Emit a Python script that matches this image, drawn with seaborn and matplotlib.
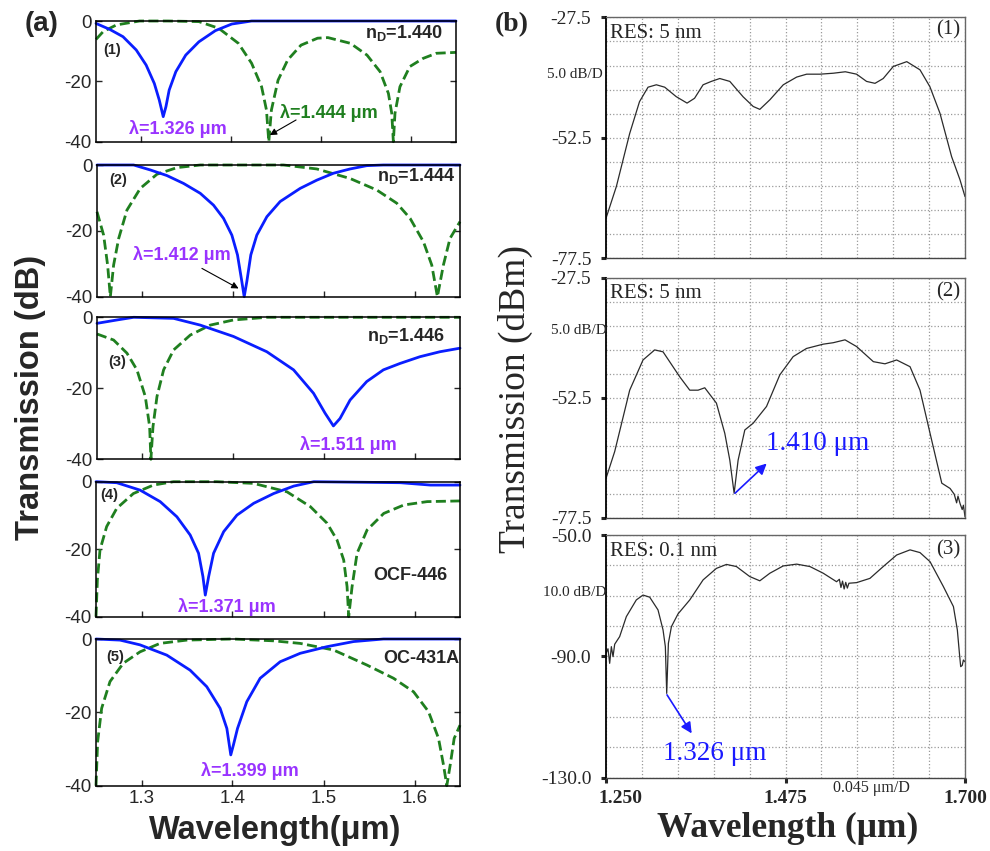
import numpy as np
import pandas as pd
import seaborn as sns
import matplotlib.pyplot as plt
from matplotlib import transforms

# ---- panel (a): simulated transmission, dB vs wavelength (um) ----
# blue solid curve / green dashed curve for each of the five cases
s1_solid_wl = [1.25, 1.2654, 1.28, 1.2947, 1.3057, 1.3148, 1.3203, 1.3247, 1.3277, 1.3313, 1.3387,
               1.3497, 1.3643, 1.3826, 1.4009, 1.4229, 1.65]
s1_solid_db = [-0.8, -2.8, -5.2, -9.6, -14.6, -20.7, -26.2, -31.7, -28.4, -22.9, -16.8,
               -11.3, -6.9, -3.2, -1.0, 0.0, 0.0]
s1_dash_wl = [1.25, 1.258, 1.2727, 1.2984, 1.33, 1.3643, 1.3863, 1.4082, 1.4229, 1.434, 1.4394, 1.442,
              1.4449, 1.4523, 1.463, 1.4778, 1.4962, 1.5077, 1.5327, 1.5511, 1.5657, 1.5749, 1.5786,
              1.5804, 1.5822, 1.5877, 1.5987, 1.6134, 1.6281, 1.65]
s1_dash_db = [-6.1, -3.5, -1.3, 0.0, 0.0, -0.2, -2.4, -7.4, -14.0, -21.8, -29.5, -40.0,
              -29.5, -19.6, -12.9, -8.0, -5.7, -5.5, -7.4, -11.3, -16.8, -24.0, -30.6,
              -40.0, -30.6, -21.8, -15.1, -12.4, -10.7, -10.4]

s2_solid_wl = [1.25, 1.2904, 1.3087, 1.327, 1.3454, 1.3638, 1.3784, 1.3894, 1.3986, 1.4048, 1.4096,
               1.4122, 1.4151, 1.4195, 1.4261, 1.4372, 1.4518, 1.4739, 1.4922, 1.5106, 1.5289,
               1.5472, 1.5656, 1.65]
s2_solid_db = [0.0, 0.0, -1.5, -3.2, -5.6, -8.6, -12.2, -16.2, -21.3, -27.3, -35.4,
               -40.0, -35.4, -27.3, -21.3, -15.7, -11.1, -7.1, -4.6, -2.5, -1.2,
               -0.2, 0.0, 0.0]
s2_dash_wl = [1.25, 1.2573, 1.2617, 1.2647, 1.2683, 1.2739, 1.283, 1.2977, 1.3161, 1.3381, 1.3638,
              1.4188, 1.4555, 1.4922, 1.5289, 1.5583, 1.5803, 1.595, 1.6097, 1.6189, 1.6251,
              1.6317, 1.639, 1.65]
s2_dash_db = [-14.2, -21.3, -30.4, -40.0, -30.4, -22.3, -13.7, -7.1, -2.8, -0.8, 0.0,
              0.0, 0.0, -1.2, -4.1, -7.6, -11.6, -16.2, -23.3, -30.4, -40.0,
              -30.4, -22.3, -17.2]

s3_solid_wl = [1.25, 1.272, 1.2904, 1.3344, 1.3638, 1.4004, 1.4371, 1.4666, 1.4886, 1.5013, 1.5105,
               1.5178, 1.5289, 1.5472, 1.5656, 1.5839, 1.6059, 1.6279, 1.65]
s3_solid_db = [-1.7, -0.75, 0.0, -0.3, -2.2, -5.4, -9.7, -14.8, -21.4, -27.0, -30.6,
               -28.5, -23.3, -18.1, -14.8, -13.0, -11.1, -9.7, -8.7]
s3_dash_wl = [1.25, 1.2683, 1.283, 1.294, 1.3032, 1.308, 1.3094, 1.3117, 1.3161, 1.3234, 1.3344,
              1.3528, 1.3748, 1.4004, 1.4371, 1.65]
s3_dash_db = [-4.7, -6.4, -10.1, -14.8, -22.3, -30.8, -40.0, -30.8, -22.3, -14.8, -9.2,
              -5.0, -2.2, -0.75, 0.0, 0.0]

s4_solid_wl = [1.25, 1.2728, 1.2985, 1.3205, 1.3389, 1.3535, 1.3627, 1.3675, 1.3701, 1.3738, 1.3792,
               1.3903, 1.4049, 1.4233, 1.4453, 1.4673, 1.4893, 1.5846, 1.6176, 1.65]
s4_solid_db = [0.0, -0.3, -2.5, -5.9, -10.4, -15.8, -21.2, -28.1, -33.6, -28.1, -21.2,
               -14.8, -9.9, -6.4, -3.5, -1.3, 0.0, -0.3, -1.0, -1.0]
s4_dash_wl = [1.25, 1.2515, 1.2544, 1.2617, 1.2728, 1.2911, 1.3131, 1.3351, 1.3828, 1.4232, 1.4599,
              1.4856, 1.5039, 1.5149, 1.5222, 1.5259, 1.5277, 1.5314, 1.5369, 1.5479, 1.5662,
              1.5883, 1.6139, 1.65]
s4_dash_db = [-40.0, -29.1, -20.2, -13.3, -7.9, -3.5, -1.0, 0.0, 0.0, -0.5, -3.0,
              -7.4, -12.3, -17.3, -23.2, -31.1, -40.0, -31.1, -21.2, -14.3, -9.4,
              -6.9, -5.9, -5.7]

s5_solid_wl = [1.25, 1.2764, 1.2984, 1.3278, 1.3534, 1.3717, 1.3864, 1.3938, 1.3981, 1.401, 1.4055,
               1.4157, 1.4304, 1.4524, 1.4744, 1.5037, 1.533, 1.5659, 1.65]
s5_solid_db = [0.0, -0.3, -1.6, -4.4, -8.5, -13.0, -18.9, -24.4, -31.6, -28.9, -24.4,
               -17.1, -10.7, -6.2, -3.9, -2.1, -0.7, 0.0, 0.0]
s5_dash_wl = [1.25, 1.2518, 1.2562, 1.2654, 1.28, 1.2984, 1.3203, 1.3497, 1.40, 1.4451, 1.4744,
              1.511, 1.5477, 1.5769, 1.599, 1.6154, 1.6264, 1.6319, 1.6355, 1.6392, 1.6436, 1.65]
s5_dash_db = [-40.0, -28.0, -18.9, -11.6, -6.6, -3.5, -1.2, -0.3, 0.0, -0.5, -1.2,
              -3.0, -7.1, -10.7, -14.4, -19.8, -27.1, -34.4, -40.0, -34.4, -27.1, -23.5]

sim_tags = ['(1)', '(2)', '(3)', '(4)', '(5)']
sim_names = [r'n$_\mathbf{D}$=1.440', r'n$_\mathbf{D}$=1.444', r'n$_\mathbf{D}$=1.446', 'OCF-446', 'OC-431A']
sim_dips = ['λ=1.326 μm', 'λ=1.412 μm', 'λ=1.511 μm', 'λ=1.371 μm', 'λ=1.399 μm']

# ---- panel (b): measured spectra, dBm vs wavelength (um) ----
m1_wl = [1.25, 1.263, 1.2797, 1.292, 1.3027, 1.3131, 1.3236, 1.338, 1.3516, 1.361, 1.3717, 1.382,
         1.3926, 1.4052, 1.4219, 1.4345, 1.4428, 1.4555, 1.4722, 1.489, 1.5015, 1.5183, 1.535,
         1.55, 1.5641, 1.5766, 1.5872, 1.5975, 1.6101, 1.627, 1.6436, 1.656, 1.6686, 1.6832,
         1.6937, 1.70]
m1_dbm = [-69.2, -62.6, -51.6, -45.0, -42.0, -41.5, -42.0, -43.96, -45.3, -44.3, -41.5, -40.8,
          -40.2, -40.8, -44.0, -46.0, -46.6, -44.6, -41.5, -39.9, -39.3, -39.3, -39.1,
          -38.8, -39.3, -40.8, -41.2, -40.2, -37.7, -36.7, -38.4, -41.9, -47.4, -56.4,
          -61.2, -64.7]

m2_wl = [1.25, 1.2609, 1.2797, 1.2964, 1.311, 1.3215, 1.3424, 1.355, 1.3654, 1.3738, 1.3884, 1.3989,
         1.4052, 1.4106, 1.4156, 1.424, 1.4344, 1.4512, 1.4679, 1.4846, 1.5013, 1.5223, 1.5348,
         1.5496, 1.5641, 1.5851, 1.5997, 1.6143, 1.6311, 1.6436, 1.6562, 1.6709, 1.6813, 1.6865,
         1.6895, 1.6912, 1.6939, 1.6965, 1.698, 1.70]
m2_dbm = [-69.3, -63.7, -50.9, -44.6, -42.5, -42.9, -48.1, -50.9, -50.9, -50.4, -53.6, -59.9,
          -65.5, -72.4, -65.5, -59.2, -57.8, -54.3, -47.7, -43.9, -42.2, -41.3, -41.0,
          -40.4, -41.8, -44.95, -45.4, -44.6, -46.0, -50.9, -59.9, -70.3, -71.4, -72.6,
          -74.4, -73.0, -74.6, -75.8, -74.9, -77.3]

m3_wl = [1.25, 1.2525, 1.2546, 1.2567, 1.2588, 1.2609, 1.2671, 1.2755, 1.288, 1.2964, 1.3048, 1.3152,
         1.3215, 1.3244, 1.3261, 1.3282, 1.332, 1.3403, 1.355, 1.3717, 1.3884, 1.401, 1.4135,
         1.4302, 1.4428, 1.4554, 1.4721, 1.489, 1.5056, 1.5223, 1.539, 1.5425, 1.5445, 1.5465,
         1.5485, 1.5505, 1.5525, 1.5545, 1.5641, 1.5808, 1.5975, 1.6143, 1.6311, 1.6436, 1.6562,
         1.6729, 1.6855, 1.6904, 1.693, 1.6946, 1.6965, 1.698, 1.70]
m3_dbm = [-89.0, -87.5, -92.3, -86.8, -90.1, -86.0, -83.5, -76.9, -71.4, -69.8, -70.5, -74.7,
          -81.3, -86.8, -102.2, -85.7, -80.2, -76.0, -71.4, -64.8, -61.0, -59.7, -60.4,
          -63.7, -65.1, -62.6, -60.2, -59.6, -60.4, -62.6, -65.4, -64.6, -67.3, -65.2,
          -67.8, -65.6, -67.5, -65.9, -65.7, -64.3, -60.4, -56.6, -54.9, -55.8, -58.8,
          -67.0, -73.6, -81.3, -89.0, -93.4, -93.0, -91.2, -91.8]

meas_res = ['RES: 5 nm', 'RES: 5 nm', 'RES: 0.1 nm']
meas_tags = ['(1)', '(2)', '(3)']
meas_scale = ['5.0 dB/D', '5.0 dB/D', '10.0 dB/D']
meas_ylim = [(-77.5, -27.5), (-77.5, -27.5), (-130.0, -50.0)]
meas_step = [5.0, 5.0, 10.0]

BLUE = '#0a1eff'
GREEN = '#1f7f1f'
PURPLE = '#9933ff'

sns.set_theme(style='ticks')
plt.rcParams['font.family'] = ['Liberation Sans', 'DejaVu Sans']
plt.rcParams['axes.unicode_minus'] = False
plt.rcParams['mathtext.fontset'] = 'custom'
plt.rcParams['mathtext.rm'] = 'Liberation Sans'
plt.rcParams['mathtext.bf'] = 'Liberation Sans:bold'
plt.rcParams['mathtext.it'] = 'Liberation Sans:italic'

W, H = 990, 851
fig = plt.figure(figsize=(W / 100, H / 100), dpi=100)


def box(l, t, r, b):
    return [l / W, 1 - b / H, (r - l) / W, (b - t) / H]


# ---------------- panel (a) ----------------
sims = [(s1_solid_wl, s1_solid_db, s1_dash_wl, s1_dash_db),
        (s2_solid_wl, s2_solid_db, s2_dash_wl, s2_dash_db),
        (s3_solid_wl, s3_solid_db, s3_dash_wl, s3_dash_db),
        (s4_solid_wl, s4_solid_db, s4_dash_wl, s4_dash_db),
        (s5_solid_wl, s5_solid_db, s5_dash_wl, s5_dash_db)]
a_boxes = [(96, 21, 456, 141.7), (97, 165, 460, 296.7), (97, 317.3, 460, 459.3),
           (96, 481.7, 460, 616.7), (96, 639, 460, 785.7)]
# text positions (data coords): tag, name, dip label
tag_pos = [(1.2577, -9.5), (1.2632, -4.6), (1.262, -12.6), (1.2544, -3.9), (1.261, -4.8)]
name_pos = [(1.6357, -4.0), (1.6445, -3.4), (1.6335, -5.3), (1.6357, -27.9), (1.649, -5.2)]
dip_pos = [(1.3407, -35.7), (1.3434, -27.3), (1.527, -35.9), (1.394, -37.0), (1.4192, -35.9)]

for i, (swl, sdb, dwl, ddb) in enumerate(sims):
    ax = fig.add_axes(box(*a_boxes[i]))
    sns.lineplot(x=dwl, y=ddb, ax=ax, color=GREEN, lw=2.0, linestyle='--',
                 estimator=None, sort=False)
    ax.lines[-1].set_dashes([3.6, 1.6])
    sns.lineplot(x=swl, y=sdb, ax=ax, color=BLUE, lw=2.0, estimator=None, sort=False)
    for ln in ax.lines:
        ln.set_clip_on(False)
    ax.set_xlim(1.25, 1.65)
    ax.set_ylim(-40, 0)
    ax.set_yticks([0, -20, -40])
    ax.set_xticks([1.3, 1.4, 1.5, 1.6])
    ax.set_xlabel('')
    ax.set_ylabel('')
    ax.tick_params(direction='in', right=True, length=4, width=1, labelsize=13.5,
                   labelbottom=(i == 4), pad=3)
    for sp in ax.spines.values():
        sp.set_linewidth(1.1)
        sp.set_color('black')
    ax.text(*tag_pos[i], sim_tags[i], fontsize=10.5, fontweight='bold', va='center', ha='left')
    ax.text(*name_pos[i], sim_names[i], fontsize=13, fontweight='bold', va='center', ha='right')
    ax.text(*dip_pos[i], sim_dips[i], fontsize=13, fontweight='bold', va='center', ha='center',
            color=PURPLE)
    if i == 0:
        ax.text(1.5093, -30.5, 'λ=1.444 μm', fontsize=13, fontweight='bold', va='center',
                ha='center', color=GREEN)
        ax.annotate('', xy=(1.4431, -37.8), xytext=(1.4723, -32.8),
                    arrowprops=dict(arrowstyle='-|>', color='black', lw=0.8, mutation_scale=10,
                                    shrinkA=0, shrinkB=0))
    if i == 1:
        ax.annotate('', xy=(1.406, -37.5), xytext=(1.3656, -31.4),
                    arrowprops=dict(arrowstyle='-|>', color='black', lw=0.8, mutation_scale=10,
                                    shrinkA=0, shrinkB=0))

fig.text(25 / W, 1 - 24 / H, '(a)', fontsize=20, fontweight='bold', ha='left', va='center')
fig.text(31 / W, 1 - 397 / H, 'Transmission (dB)', fontsize=23.5, fontweight='bold',
         rotation=90, ha='center', va='center')
fig.text(275 / W, 1 - 831 / H, 'Wavelength(μm)', fontsize=23.5, fontweight='bold',
         ha='center', va='center')

# ---------------- panel (b) ----------------
SERIF = ['Liberation Serif', 'DejaVu Serif']
meas = [(m1_wl, m1_dbm), (m2_wl, m2_dbm), (m3_wl, m3_dbm)]
b_boxes = [(606, 17.3, 965, 258.3), (606, 278, 965, 517.7), (606, 535, 965, 777.7)]
res_y = [-30.8, -30.7, -55.5]
tagb_y = [-30.1, -30.4, -54.9]
scale_px = [(547, 75), (551, 331), (543, 593)]
grid_x = np.arange(0, 11) * 0.045 + 1.25

for i, (wl, dbm) in enumerate(meas):
    ax = fig.add_axes(box(*b_boxes[i]))
    lo, hi = meas_ylim[i]
    sns.lineplot(x=wl, y=dbm, ax=ax, color='#2b2b2b', lw=0.9, estimator=None, sort=False)
    ax.set_xlim(1.25, 1.70)
    ax.set_ylim(lo, hi)
    ax.set_xticks([1.25, 1.475, 1.70])
    ax.set_xticks(grid_x, minor=True)
    ax.set_yticks([hi, (hi + lo) / 2, lo])
    ax.set_yticks(np.arange(lo, hi + 0.1, meas_step[i]), minor=True)
    ax.set_yticklabels(['%.1f' % v for v in [hi, (hi + lo) / 2, lo]])
    ax.grid(True, which='both', color='#9a9a9a', linestyle=':', lw=0.9)
    ax.set_xlabel('')
    ax.set_ylabel('')
    ax.tick_params(axis='y', which='major', direction='out', length=3.6, width=2.2,
                   labelsize=14, pad=7)
    ax.tick_params(which='minor', length=0)
    if i == 2:
        ax.set_xticklabels(['1.250', '1.475', '1.700'])
        ax.tick_params(axis='x', which='major', direction='out', length=3.6, width=2.2,
                       labelsize=14, pad=5)
        for lab in ax.get_xticklabels():
            lab.set_fontfamily(SERIF)
            lab.set_fontweight('bold')
        first = ax.get_xticklabels()[0]
        first.set_transform(first.get_transform() +
                            transforms.ScaledTranslation(14 / 100, 0, fig.dpi_scale_trans))
    else:
        ax.tick_params(axis='x', which='major', length=0, labelbottom=False)
    for lab in ax.get_yticklabels():
        lab.set_fontfamily(SERIF)
    for sp in ax.spines.values():
        sp.set_color('#666666')
        sp.set_linewidth(1.0)
    ax.spines['left'].set_color('black')
    ax.spines['left'].set_linewidth(1.3)
    ax.spines['bottom'].set_color('#444444')
    ax.text(1.255, res_y[i], meas_res[i], fontsize=15, family=SERIF, ha='left', va='center')
    ax.text(1.6937, tagb_y[i], meas_tags[i], fontsize=15, family=SERIF, ha='right', va='center')
    fig.text(scale_px[i][0] / W, 1 - scale_px[i][1] / H, meas_scale[i], fontsize=11,
             family=SERIF, ha='left', va='center')
    if i == 1:
        ax.annotate('', xy=(1.4514, -66.2), xytext=(1.4117, -72.4),
                    arrowprops=dict(arrowstyle='-|>', color='#1a1aff', lw=1.2, mutation_scale=16,
                                    shrinkA=0, shrinkB=0))
        ax.text(1.451, -62.0, '1.410 μm', fontsize=19.5, family=SERIF, color='#1a1aff',
                ha='left', va='center')
    if i == 2:
        ax.annotate('', xy=(1.3574, -115.4), xytext=(1.3265, -102.7),
                    arrowprops=dict(arrowstyle='-|>', color='#1a1aff', lw=1.2, mutation_scale=16,
                                    shrinkA=0, shrinkB=0))
        ax.text(1.3218, -122.0, '1.326 μm', fontsize=19.5, family=SERIF, color='#1a1aff',
                ha='left', va='center')

fig.text(833 / W, 1 - 788 / H, '0.045 μm/D', fontsize=11.5, family=SERIF, ha='left', va='center')
fig.text(495 / W, 1 - 25 / H, '(b)', fontsize=20, fontweight='bold', family=SERIF,
         ha='left', va='center')
fig.text(515 / W, 1 - 399 / H, 'Transmission (dBm)', fontsize=27, family=SERIF,
         rotation=90, ha='center', va='center')
fig.text(788 / W, 1 - 828 / H, 'Wavelength (μm)', fontsize=25.5, fontweight='bold',
         family=SERIF, ha='center', va='center')

fig.savefig('out.png', dpi=100)
